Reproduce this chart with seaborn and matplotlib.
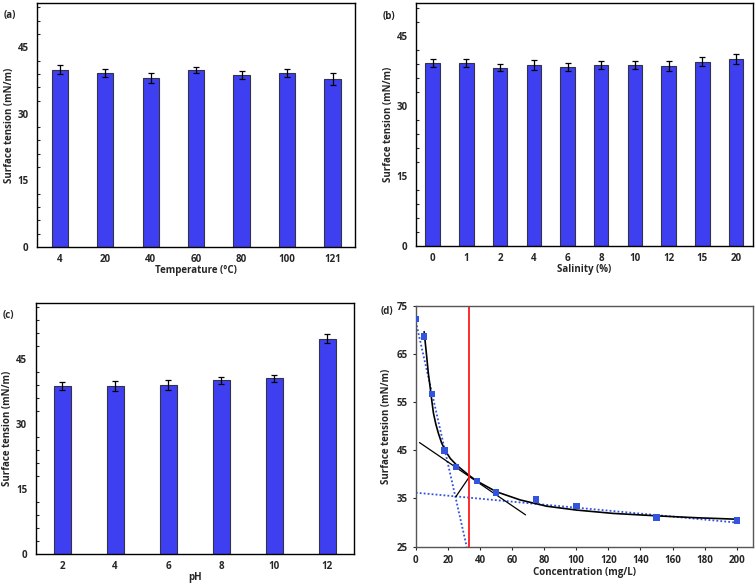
import matplotlib
matplotlib.use("Agg")
import matplotlib.pyplot as plt
import seaborn as sns
import pandas as pd
from matplotlib.ticker import MultipleLocator, FixedLocator

# Panel (a): temperature
temp_labels = ["4", "20", "40", "60", "80", "100", "121"]
temp_values = [39.9, 39.2, 38.1, 39.9, 38.7, 39.2, 37.9]
temp_err = [1.0, 0.8, 1.1, 0.75, 0.9, 0.9, 1.4]

# Panel (b): salinity
sal_labels = ["0", "1", "2", "4", "6", "8", "10", "12", "15", "20"]
sal_values = [39.2, 39.2, 38.2, 38.8, 38.4, 38.8, 38.8, 38.6, 39.5, 40.0]
sal_err = [0.8, 0.8, 0.8, 1.0, 0.9, 0.9, 0.9, 1.1, 1.0, 1.1]

# Panel (c): pH
ph_labels = ["2", "4", "6", "8", "10", "12"]
ph_values = [38.8, 38.8, 39.0, 40.1, 40.5, 49.7]
ph_err = [0.9, 1.1, 1.15, 0.8, 0.9, 1.0]

# Panel (d): concentration vs surface tension
conc = [0, 5, 10, 18, 25, 38, 50, 75, 100, 150, 200]
tension = [72.2, 68.6, 56.7, 45.0, 41.5, 38.6, 36.2, 34.8, 33.4, 31.1, 30.4]
# fitted curve
curve_x = [5.2, 6.0, 6.8, 7.8, 8.9, 10, 11, 12.5, 14.1, 16, 18.2, 21.5, 25.5, 32.7, 38.1, 50.2, 65, 81.5, 100, 123, 150, 175, 200]
curve_y = [69.6, 67.0, 64.4, 61.0, 58.2, 55.2, 52.7, 50.4, 48.5, 46.6, 45.0, 43.3, 41.9, 39.9, 38.6, 36.4, 34.7, 33.4, 32.6, 31.9, 31.4, 31.0, 30.7]
tangent_x = [2.3, 68.4]
tangent_y = [46.6, 31.6]
bisect_x = [25, 33.4]
bisect_y = [35.4, 39.5]
steep_x = [0, 31.7]
steep_y = [71.7, 25]
flat_x = [0, 200]
flat_y = [36.2, 30.0]
cmc = 33.4

sns.set_style("white")
plt.rcParams["font.family"] = ["Open Sans", "DejaVu Sans"]
plt.rcParams["font.weight"] = "bold"
plt.rcParams["axes.labelweight"] = "bold"

bar_color = "#3f3ff2"
edge_color = "#333344"
fs = 7

fig = plt.figure(figsize=(7.56, 5.85), dpi=100)


def bar_panel(rect, labels, values, errs, width, ylim, xlabel, tag):
    ax = fig.add_axes(rect)
    df = pd.DataFrame({"cat": labels, "val": values})
    sns.barplot(x="cat", y="val", data=df, order=labels, color=bar_color,
                edgecolor=edge_color, linewidth=0.8, width=width,
                saturation=1, ax=ax)
    ax.errorbar(range(len(labels)), values, yerr=errs, fmt="none",
                ecolor="black", elinewidth=0.9, capsize=2, capthick=0.9)
    ax.set_xlim(-0.5, len(labels) - 0.5)
    ax.set_ylim(*ylim)
    ax.yaxis.set_major_locator(FixedLocator([0, 15, 30, 45]))
    ax.yaxis.set_minor_locator(MultipleLocator(3))
    ax.xaxis.set_minor_locator(FixedLocator([i + 0.5 for i in range(len(labels) - 1)]))
    ax.tick_params(axis="x", which="major", length=0, labelsize=fs, pad=5)
    ax.tick_params(axis="x", which="minor", direction="in", length=2.5, width=0.8)
    ax.tick_params(axis="y", which="major", length=0, labelsize=fs, pad=6)
    ax.tick_params(axis="y", which="minor", direction="in", length=2, width=0.8, left=True)
    ax.set_xlabel(xlabel, fontsize=fs, labelpad=0)
    ax.set_ylabel("Surface tension (mN/m)", fontsize=fs, labelpad=2)
    for s in ax.spines.values():
        s.set_color("black")
        s.set_linewidth(1.0)
    fig.text(rect[0] - 0.044, rect[1] + rect[3] - 0.022, tag, fontsize=fs,
             fontweight="bold", ha="left", va="center")
    return ax


bar_panel([0.049, 0.578, 0.421, 0.417], temp_labels, temp_values, temp_err,
          0.36, (0, 55), "Temperature (°C)", "(a)")
bar_panel([0.550, 0.5795, 0.446, 0.415], sal_labels, sal_values, sal_err,
          0.43, (0, 52), "Salinity (%)", "(b)")
bar_panel([0.047, 0.0535, 0.421, 0.429], ph_labels, ph_values, ph_err,
          0.32, (0, 58), "pH", "(c)")

# Panel (d)
axd = fig.add_axes([0.550, 0.0655, 0.4458, 0.412])
blue_dot = "#2f52e0"
axd.plot(steep_x, steep_y, linestyle=(0, (1, 1.2)), color=blue_dot, linewidth=1.3)
axd.plot(flat_x, flat_y, linestyle=(0, (1, 1.2)), color=blue_dot, linewidth=1.3)
sns.lineplot(x=curve_x, y=curve_y, sort=False, color="black", linewidth=1.2, ax=axd)
axd.plot(tangent_x, tangent_y, color="black", linewidth=0.9)
axd.plot(bisect_x, bisect_y, color="black", linewidth=0.9)
axd.axvline(cmc, color="#ff1a1a", linewidth=1.3)
sns.scatterplot(x=conc, y=tension, marker="s", color="#3355dd", s=22,
                edgecolor="none", ax=axd, zorder=5)
axd.set_xlim(0, 210)
axd.set_ylim(25, 75)
axd.xaxis.set_major_locator(MultipleLocator(20))
axd.yaxis.set_major_locator(FixedLocator([25, 35, 45, 55, 65, 75]))
axd.tick_params(axis="both", which="major", direction="out", length=2.5,
                width=0.8, labelsize=fs, bottom=True, left=True)
axd.set_xlabel("Concentration (mg/L)", fontsize=fs, labelpad=1)
axd.set_ylabel("Surface tension (mN/m)", fontsize=fs, labelpad=3)
for s in axd.spines.values():
    s.set_color("#555555")
    s.set_linewidth(1.0)
fig.text(0.503, 0.0655 + 0.412 - 0.01, "(d)", fontsize=fs,
         fontweight="bold", ha="left", va="center")

fig.savefig("out.png", dpi=100)
plt.close(fig)
